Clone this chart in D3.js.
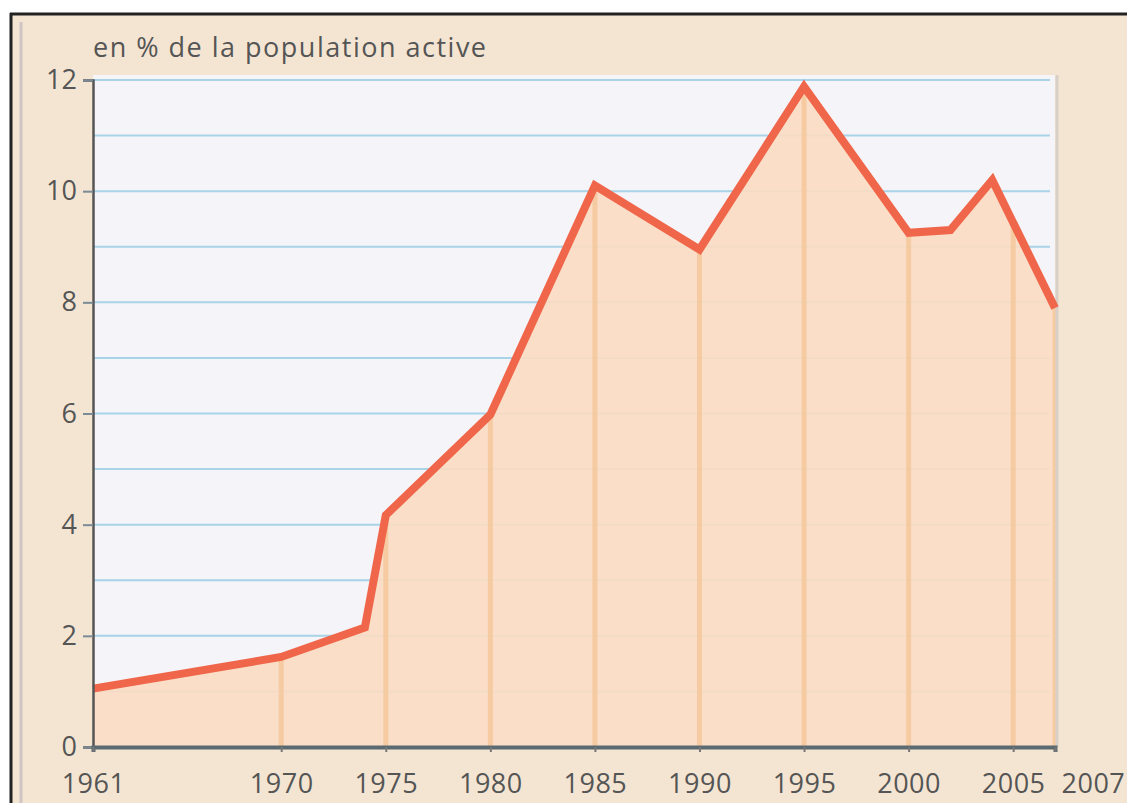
<!DOCTYPE html>
<html>
<head>
<meta charset="utf-8">
<script src="https://cdn.jsdelivr.net/npm/d3@7"></script>
<style>
  html, body { margin: 0; padding: 0; background: #ffffff; }
  svg { display: block; }
  text { font-family: "Open Sans", "Noto Sans", sans-serif; }
</style>
</head>
<body>
<svg id="chart" width="1127" height="803"></svg>
<script>
// ---- data ----
const years  = [1961, 1970, 1974, 1975, 1980, 1985, 1990, 1995, 2000, 2002, 2004, 2007];
const values = [1.05, 1.62, 2.15, 4.17, 5.98, 10.1, 8.95, 11.88, 9.25, 9.3, 10.2, 7.9];
const xTickYears = [1961, 1970, 1975, 1980, 1985, 1990, 1995, 2000, 2005, 2007];
const xTickLabels = ["1961", "1970", "1975", "1980", "1985", "1990", "1995", "2000", "2005", "2007"];
const verticalYears = [1970, 1975, 1980, 1985, 1990, 1995, 2000, 2005, 2007];
const yTicks = [0, 2, 4, 6, 8, 10, 12];
const yGrid = [1, 2, 3, 4, 5, 6, 7, 8, 9, 10, 11, 12];
const yTitle = "en % de la population active";

const data = years.map((y, i) => ({ year: y, value: values[i] }));

const svg = d3.select("#chart");
const W = 1127, H = 803;

// page background (beige paper)
svg.append("rect").attr("x", 0).attr("y", 0).attr("width", W).attr("height", H).attr("fill", "#ffffff");
svg.append("rect").attr("x", 10).attr("y", 13).attr("width", W - 10).attr("height", H - 13).attr("fill", "#f4e5d3");
// frame lines
svg.append("line").attr("x1", 10).attr("x2", W).attr("y1", 14).attr("y2", 14).attr("stroke", "#222").attr("stroke-width", 3);
svg.append("line").attr("x1", 11).attr("x2", 11).attr("y1", 13).attr("y2", H).attr("stroke", "#222").attr("stroke-width", 3);
svg.append("line").attr("x1", 21).attr("x2", 21).attr("y1", 22).attr("y2", H).attr("stroke", "#cfc6c4").attr("stroke-width", 3);
const grad = svg.append("defs").append("linearGradient").attr("id", "topband");
grad.append("stop").attr("offset", "0%").attr("stop-color", "#c9c3c0");
grad.append("stop").attr("offset", "40%").attr("stop-color", "#e8c4a8");
grad.append("stop").attr("offset", "60%").attr("stop-color", "#9aa0a8");
grad.append("stop").attr("offset", "100%").attr("stop-color", "#7ab8d8");
svg.append("line").attr("x1", 25).attr("x2", 600).attr("y1", 21).attr("y2", 21).attr("stroke", "url(#topband)").attr("stroke-width", 3).attr("opacity", 0.8);

// ---- scales ----
const x = d3.scaleLinear().domain([1961, 2007]).range([93, 1055]);
const y = d3.scaleLinear().domain([0, 12]).range([747, 80]);

// plot background
svg.append("rect")
  .attr("x", x(1961)).attr("y", y(12) - 5)
  .attr("width", x(2007) - x(1961)).attr("height", y(0) - y(12) + 5)
  .attr("fill", "#f5f4f8");

// horizontal grid lines
svg.append("g").selectAll("line").data(yGrid).join("line")
  .attr("x1", x(1961)).attr("x2", x(2007) - 5)
  .attr("y1", d => y(d)).attr("y2", d => y(d))
  .attr("stroke", "#a9d3e6").attr("stroke-width", 2);

// area under the curve
const area = d3.area().x(d => x(d.year)).y0(y(0)).y1(d => y(d.value));
svg.append("path").datum(data).attr("d", area)
  .attr("fill", "#fbdcc2").attr("fill-opacity", 0.9);

// vertical lines from axis to curve
function valueAt(yr) {
  const i = d3.bisector(d => d.year).left(data, yr);
  if (i <= 0) return data[0].value;
  if (i >= data.length) return data[data.length - 1].value;
  const a = data[i - 1], b = data[i];
  if (b.year === yr) return b.value;
  return a.value + (b.value - a.value) * (yr - a.year) / (b.year - a.year);
}
svg.append("g").selectAll("line").data(verticalYears).join("line")
  .attr("x1", d => x(d)).attr("x2", d => x(d))
  .attr("y1", y(0)).attr("y2", d => y(valueAt(d)))
  .attr("stroke", "#f5c596").attr("stroke-width", 5).attr("opacity", 0.75);

// right frame edge of plot
svg.append("line").attr("x1", x(2007) + 2).attr("x2", x(2007) + 2)
  .attr("y1", y(12) - 5).attr("y2", y(0))
  .attr("stroke", "#d8cfc8").attr("stroke-width", 3);

// curve
const line = d3.line().x(d => x(d.year)).y(d => y(d.value));
svg.append("path").datum(data).attr("d", line)
  .attr("fill", "none").attr("stroke", "#f0664a").attr("stroke-width", 8)
  .attr("stroke-linejoin", "miter").attr("stroke-linecap", "butt");

// ---- axes ----
const yAxis = d3.axisLeft(y).tickValues(yTicks).tickSize(10).tickPadding(6).tickFormat(d3.format("d"));
const gy = svg.append("g").attr("transform", `translate(${x(1961)},0)`).call(yAxis);
gy.select(".domain").attr("stroke", "#555").attr("stroke-width", 2.5);
gy.selectAll(".tick line").attr("stroke", "#7a8a96").attr("stroke-width", 2);
gy.selectAll(".tick text").attr("fill", "#555").attr("font-size", 27);

const xAxis = d3.axisBottom(x).tickValues(xTickYears).tickSize(5).tickPadding(22)
  .tickFormat((d, i) => xTickLabels[i]);
const gx = svg.append("g").attr("transform", `translate(0,${y(0)})`).call(xAxis);
gx.select(".domain").attr("stroke", "#5a6a70").attr("stroke-width", 4);
gx.selectAll(".tick line").attr("stroke", "#777").attr("stroke-width", 2);
gx.selectAll(".tick text").attr("fill", "#555").attr("font-size", 27).attr("letter-spacing", 0.5);
// last label sits to the right of its tick to avoid overlapping 2005
gx.selectAll(".tick text").filter(d => d === 2007).attr("text-anchor", "start").attr("dx", 6);

// axis title
svg.append("text").attr("x", x(1961)).attr("y", 57)
  .attr("fill", "#555").attr("font-size", 27).attr("letter-spacing", 1.5).text(yTitle);
</script>
</body>
</html>
